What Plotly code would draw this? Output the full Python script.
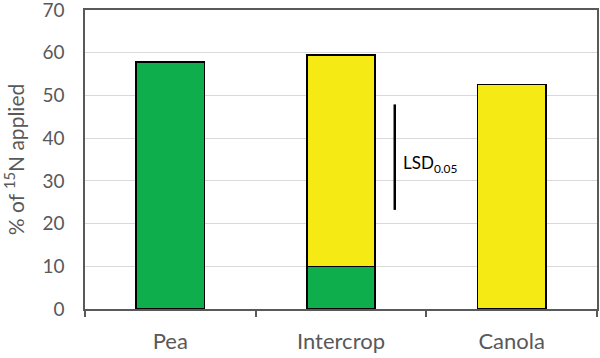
import plotly.graph_objects as go

categories = ["Pea", "Intercrop", "Canola"]
pea_n = [57.8, 10.0, 0]
canola_n = [0, 49.5, 52.6]
lsd_low = 23.2
lsd_high = 47.9
lsd_label = "LSD<sub>0.05</sub>"
y_ticks = [0, 10, 20, 30, 40, 50, 60, 70]

GREEN = "#0DAE4B"
YELLOW = "#F5EA14"
GRAY = "#595959"
FONT = "Lato"

fig = go.Figure()
fig.add_trace(go.Bar(x=categories, y=pea_n, marker=dict(color=GREEN, line=dict(color="black", width=1.5)), width=0.4))
fig.add_trace(go.Bar(x=categories, y=canola_n, marker=dict(color=YELLOW, line=dict(color="black", width=1.5)), width=0.4))

lsd_x = 1.315
fig.add_shape(type="line", xref="x", yref="y", x0=lsd_x, x1=lsd_x, y0=lsd_low, y1=lsd_high,
              line=dict(color="black", width=2.5))
fig.add_annotation(x=lsd_x, y=(lsd_low + lsd_high) / 2 - 1.5, xref="x", yref="y", text=lsd_label,
                   showarrow=False, xanchor="left", xshift=6, font=dict(family=FONT, size=17, color="black"))

fig.update_layout(
    barmode="stack",
    width=600, height=358,
    margin=dict(l=85, r=3, t=10, b=49, autoexpand=False),
    paper_bgcolor="white", plot_bgcolor="white",
    showlegend=False,
    font=dict(family=FONT, size=17, color=GRAY),
)
fig.update_xaxes(
    type="category", range=[-0.5, 2.5], automargin=False,
    showline=True, linecolor=GRAY, linewidth=1.5, mirror=True,
    ticks="outside", tickson="boundaries", ticklen=6, tickcolor=GRAY, tickwidth=1.5,
    ticklabelstandoff=12,
    tickfont=dict(family=FONT, size=22, color=GRAY),
)
fig.update_yaxes(
    range=[0, 70], tickvals=y_ticks, automargin=False, ticklabeloverflow="allow",
    showline=True, linecolor=GRAY, linewidth=1.5, mirror=True,
    showgrid=True, gridcolor="#D9D9D9", gridwidth=1.2,
    zeroline=False, ticks="", ticklabelstandoff=15,
    tickfont=dict(family=FONT, size=19, color=GRAY),
    title=dict(text="% of <sup>15</sup>N applied", font=dict(family=FONT, size=21, color=GRAY), standoff=14),
)

fig.write_html("out.html", config={"displayModeBar": False},
               post_script="document.body.style.margin='0';document.body.style.overflow='hidden';")
